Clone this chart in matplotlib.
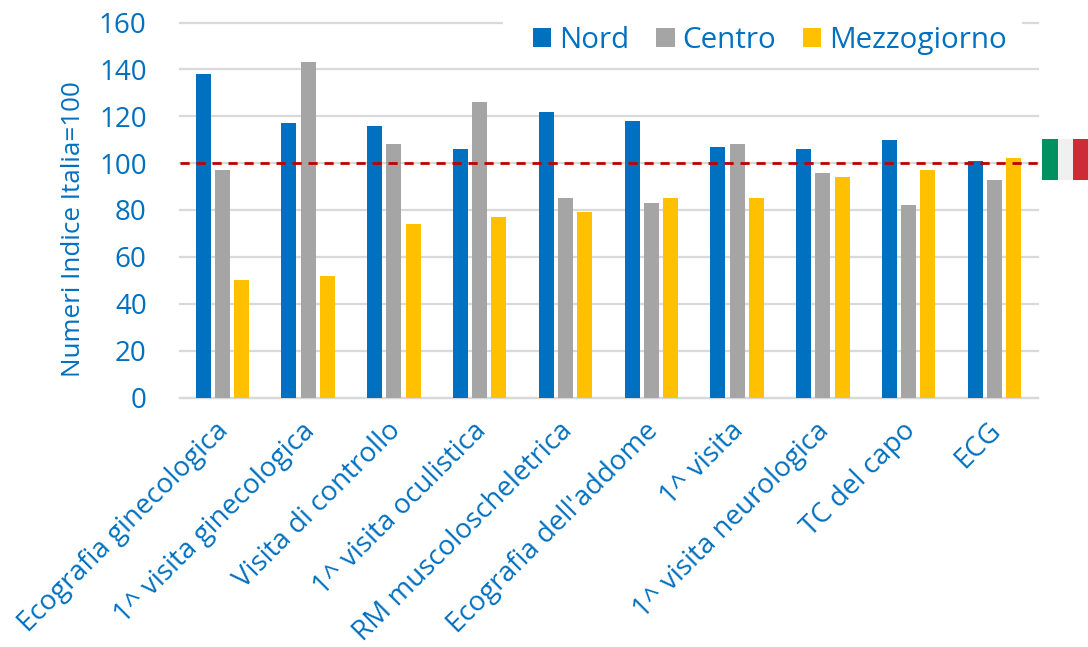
import matplotlib
matplotlib.use("Agg")
import matplotlib.pyplot as plt
from matplotlib.patches import Rectangle
from matplotlib.transforms import ScaledTranslation
import numpy as np

plt.rcParams['font.family'] = ['Open Sans', 'DejaVu Sans']

categories = ["Ecografia ginecologica", "1^ visita ginecologica", "Visita di controllo",
              "1^ visita oculistica", "RM muscoloscheletrica", "Ecografia dell'addome",
              "1^ visita", "1^ visita neurologica", "TC del capo", "ECG"]
nord = [138, 117, 116, 106, 122, 118, 107, 106, 110, 101]
centro = [97, 143, 108, 126, 85, 83, 108, 96, 82, 93]
mezzogiorno = [50, 52, 74, 77, 79, 85, 85, 94, 97, 102]
series_names = ["Nord", "Centro", "Mezzogiorno"]
colors = ["#0070C0", "#A5A5A5", "#FFC000"]
yticks = [0, 20, 40, 60, 80, 100, 120, 140, 160]
blue = "#0070C0"
W, H = 1088, 647

fig = plt.figure(figsize=(W / 100, H / 100), dpi=100)
L, R, T, B = 180, 1038, 22.5, 397.5
ax = fig.add_axes([L / W, 1 - B / H, (R - L) / W, (B - T) / H])

x = np.arange(len(categories)) - 0.006
bw = 15 / 85.8
step = 19.2 / 85.8
for i, (vals, name, c) in enumerate(zip([nord, centro, mezzogiorno], series_names, colors)):
    ax.bar(x + (i - 1) * step, vals, bw, color=c, label=name, zorder=3)

ax.set_xlim(-0.5, len(categories) - 0.5)
ax.set_ylim(0, 160)
ax.set_yticks(yticks)
ax.yaxis.grid(True, color="#D9D9D9", lw=1.6, zorder=0)
for gl in ax.get_ygridlines():
    gl.set_clip_on(False)
ax.set_axisbelow(True)
for s in ["top", "right", "left"]:
    ax.spines[s].set_visible(False)
ax.spines["bottom"].set_color("#D9D9D9")
ax.spines["bottom"].set_linewidth(1.6)
ax.tick_params(axis="both", length=0)
ax.tick_params(axis="y", labelsize=20, labelcolor=blue, pad=24)
ax.set_xticks(np.arange(len(categories)))
ax.set_xticklabels(categories, rotation=45, ha="right", rotation_mode="anchor",
                   fontsize=20, color=blue)
ax.tick_params(axis="x", pad=14)
shift = ScaledTranslation(-8 / 100, 0, fig.dpi_scale_trans)
for lab in ax.get_xticklabels():
    lab.set_transform(lab.get_transform() + shift)
ax.set_ylabel("Numeri Indice Italia=100", fontsize=18.7, color=blue)
ax.yaxis.set_label_coords(86 / W, 1 - 229 / H, transform=fig.transFigure)

ax.axhline(100, color="#C00000", lw=2, ls=(0, (3.3, 2.46)), zorder=4, clip_on=False)

# white gap behind the legend, breaking the top gridline
ax.add_patch(Rectangle((503 / W, 1 - 60 / H), 519 / W, 50 / H, transform=fig.transFigure,
                       facecolor="white", edgecolor="none", zorder=2, clip_on=False))
leg = ax.legend(loc="center right", bbox_to_anchor=(1007 / W, 1 - 40.5 / H),
                bbox_transform=fig.transFigure, ncol=3, frameon=False,
                fontsize=21.3, labelcolor=blue, handlelength=0.62, handleheight=0.62,
                handletextpad=0.27, columnspacing=0.9, borderpad=0, borderaxespad=0)
leg.set_zorder(5)

flag = [("#009160", 1042, 1058), ("#F0F0F0", 1058, 1073), ("#CE2B37", 1073, 1088)]
for col, x0, x1 in flag:
    fig.add_artist(Rectangle((x0 / W, 1 - 180 / H), (x1 - x0) / W, 41 / H,
                             transform=fig.transFigure, facecolor=col, edgecolor="none"))

fig.savefig("out.png", dpi=100)
